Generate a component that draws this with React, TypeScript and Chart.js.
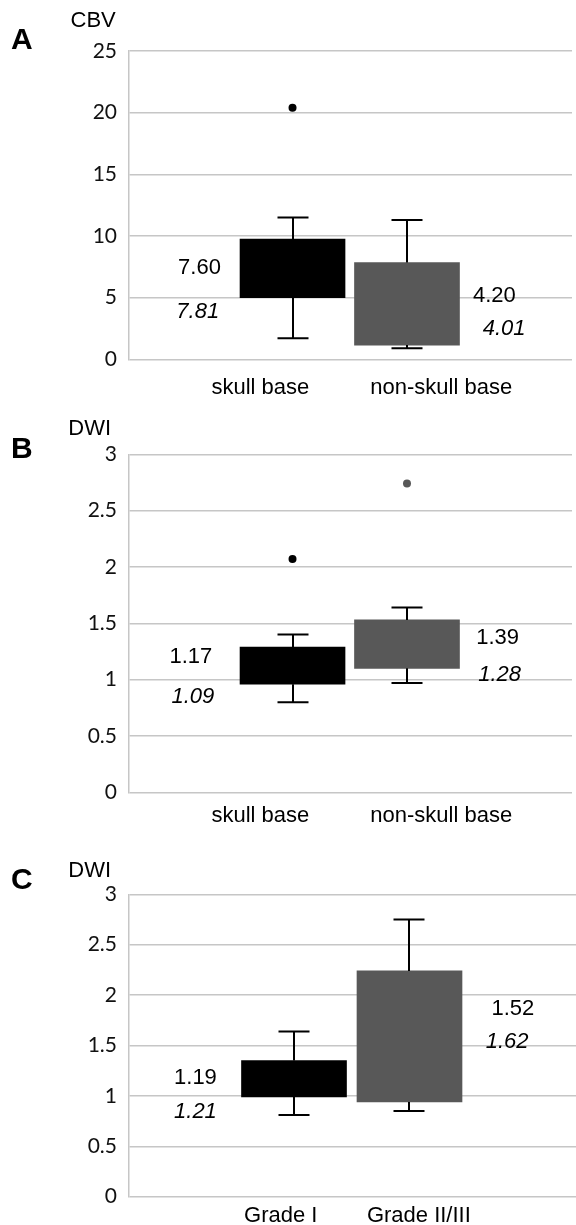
import React, { useEffect, useRef } from "react";
import { Chart, registerables } from "chart.js";

Chart.register(...registerables);

// ---------- DATA ----------
// Panel A (CBV)
const catsA = ["skull base", "non-skull base"];
const minA = [1.7, 0.9];
const q1A = [5.0, 1.15];
const q3A = [9.75, 7.85];
const maxA = [11.5, 11.3];
const outliersA = [[20.4], []];
const valueA = ["7.60", "4.20"];
const italicA = ["7.81", "4.01"];
const yTicksA = [0, 5, 10, 15, 20, 25];

// Panel B (DWI)
const catsB = ["skull base", "non-skull base"];
const minB = [0.8, 0.97];
const q1B = [0.96, 1.1];
const q3B = [1.29, 1.53];
const maxB = [1.4, 1.64];
const outliersB = [[2.07], [2.74]];
const valueB = ["1.17", "1.39"];
const italicB = ["1.09", "1.28"];
const yTicksB = [0, 0.5, 1, 1.5, 2, 2.5, 3];

// Panel C (DWI by grade)
const catsC = ["Grade I", "Grade II/III"];
const minC = [0.81, 0.85];
const q1C = [0.99, 0.94];
const q3C = [1.35, 2.24];
const maxC = [1.64, 2.75];
const outliersC = [[], []];
const valueC = ["1.19", "1.52"];
const italicC = ["1.21", "1.62"];
const yTicksC = [0, 0.5, 1, 1.5, 2, 2.5, 3];

// ---------- STYLE / LAYOUT ----------
const SANS = "'Liberation Sans', Arial, Helvetica, sans-serif";
const TICK_FONT = "Lato, 'Liberation Sans', sans-serif";
const BOX_COLORS = ["#000000", "#585858"];
const GRID = "#c6c6c6";
const X_MIN = -1.4286;
const X_MAX = 2.4416;
const AXIS_W = 129;

type Panel = {
  letter: string;
  title: string;
  cats: string[];
  min: number[];
  q1: number[];
  q3: number[];
  max: number[];
  outliers: number[][];
  valueText: string[];
  italicText: string[];
  yTicks: number[];
  top: number;
  height: number;
  padTop: number;
  xAxisH: number;
  xPad: number;
  labelPos: number[];
  letterBase: number;
  titleX: number;
  titleBase: number;
  valuePos: [number, number][];
  italicPos: [number, number][];
};

const panels: Panel[] = [
  {
    letter: "A", title: "CBV",
    cats: catsA, min: minA, q1: q1A, q3: q3A, max: maxA, outliers: outliersA,
    valueText: valueA, italicText: italicA, yTicks: yTicksA,
    top: 0, height: 410, padTop: 51, xAxisH: 50.7, xPad: 15,
    labelPos: [-0.281, 1.299],
    letterBase: 49.3, titleX: 70.5, titleBase: 26.7,
    valuePos: [[-0.626, 7.37], [1.576, 5.13]],
    italicPos: [[-0.641, 3.86], [1.662, 2.43]],
  },
  {
    letter: "B", title: "DWI",
    cats: catsB, min: minB, q1: q1B, q3: q3B, max: maxB, outliers: outliersB,
    valueText: valueB, italicText: italicB, yTicks: yTicksB,
    top: 410, height: 420, padTop: 44.3, xAxisH: 37.7, xPad: 10,
    labelPos: [-0.281, 1.299],
    letterBase: 48.3, titleX: 68.3, titleBase: 25,
    valuePos: [[-0.701, 1.198], [1.605, 1.367]],
    italicPos: [[-0.684, 0.849], [1.622, 1.041]],
  },
  {
    letter: "C", title: "DWI",
    cats: catsC, min: minC, q1: q1C, q3: q3C, max: maxC, outliers: outliersC,
    valueText: valueC, italicText: italicC, yTicks: yTicksC,
    top: 830, height: 395, padTop: 64.3, xAxisH: 28.3, xPad: 6,
    labelPos: [-0.115, 1.081],
    letterBase: 58.5, titleX: 68.3, titleBase: 46.7,
    valuePos: [[-0.668, 1.175], [1.71, 1.859]],
    italicPos: [[-0.668, 0.843], [1.66, 1.538]],
  },
];

function makePlugin(p: Panel) {
  return {
    id: "boxExtras" + p.letter,
    afterDatasetsDraw(chart: any) {
      const { ctx } = chart;
      const x = chart.scales.x;
      const y = chart.scales.y;
      ctx.save();
      ctx.strokeStyle = "#000";
      ctx.lineWidth = 2;
      const capHalf = 15.5;
      p.cats.forEach((_, i) => {
        const cx = Math.round(x.getPixelForValue(i));
        const yMax = y.getPixelForValue(p.max[i]);
        const yQ3 = y.getPixelForValue(p.q3[i]);
        const yQ1 = y.getPixelForValue(p.q1[i]);
        const yMin = y.getPixelForValue(p.min[i]);
        ctx.beginPath();
        ctx.moveTo(cx, yQ3);
        ctx.lineTo(cx, yMax);
        ctx.moveTo(cx - capHalf, yMax);
        ctx.lineTo(cx + capHalf, yMax);
        ctx.moveTo(cx, yQ1);
        ctx.lineTo(cx, yMin);
        ctx.moveTo(cx - capHalf, yMin);
        ctx.lineTo(cx + capHalf, yMin);
        ctx.stroke();
      });
      ctx.restore();
    },
    afterDraw(chart: any) {
      const { ctx } = chart;
      const x = chart.scales.x;
      const y = chart.scales.y;
      ctx.save();
      ctx.fillStyle = "#000";
      ctx.textBaseline = "alphabetic";
      ctx.textAlign = "left";
      ctx.font = `bold 30px ${SANS}`;
      ctx.fillText(p.letter, 11, p.letterBase);
      ctx.font = `22px ${SANS}`;
      ctx.fillText(p.title, p.titleX, p.titleBase);
      ctx.textBaseline = "middle";
      p.cats.forEach((_, i) => {
        ctx.textAlign = i === 0 ? "right" : "left";
        ctx.font = `22px ${SANS}`;
        ctx.fillText(
          p.valueText[i],
          x.getPixelForValue(p.valuePos[i][0]),
          y.getPixelForValue(p.valuePos[i][1])
        );
        ctx.font = `italic 22px ${SANS}`;
        ctx.fillText(
          p.italicText[i],
          x.getPixelForValue(p.italicPos[i][0]),
          y.getPixelForValue(p.italicPos[i][1])
        );
      });
      ctx.restore();
    },
  };
}

function BoxPanel({ p }: { p: Panel }) {
  const ref = useRef<HTMLCanvasElement>(null);
  useEffect(() => {
    const boxes = p.cats.map((_, i) => ({ x: i, y: [p.q1[i], p.q3[i]] }));
    const outPts: { x: number; y: number }[] = [];
    const outCols: string[] = [];
    p.outliers.forEach((vals, i) =>
      vals.forEach((v) => {
        outPts.push({ x: i, y: v });
        outCols.push(BOX_COLORS[i]);
      })
    );
    const yMax = p.yTicks[p.yTicks.length - 1];
    const chart = new Chart(ref.current as HTMLCanvasElement, {
      type: "bar",
      data: {
        datasets: [
          {
            type: "bar",
            data: boxes as any,
            backgroundColor: BOX_COLORS,
            borderWidth: 0,
            barThickness: 105,
            order: 2,
          } as any,
          {
            type: "scatter",
            data: outPts,
            pointRadius: 4,
            pointBackgroundColor: outCols,
            pointBorderWidth: 0,
            showLine: false,
            order: 1,
          } as any,
        ],
      },
      options: {
        animation: false,
        responsive: false,
        devicePixelRatio: 1,
        layout: { padding: { top: p.padTop, left: 0, right: 0, bottom: 0 } },
        plugins: {
          legend: { display: false },
          tooltip: { enabled: false },
          title: { display: false },
        },
        scales: {
          x: {
            type: "linear",
            min: X_MIN,
            max: X_MAX,
            offset: false,
            grid: { display: false, drawTicks: false, offset: false },
            border: { display: false },
            afterBuildTicks: (s: any) => {
              s.ticks = p.labelPos.map((v) => ({ value: v }));
            },
            afterFit: (s: any) => {
              s.height = p.xAxisH;
            },
            ticks: {
              autoSkip: false,
              maxRotation: 0,
              padding: p.xPad,
              color: "#000",
              font: { family: SANS, size: 22 },
              callback: (_v: any, i: number) => p.cats[i],
            },
          },
          y: {
            type: "linear",
            min: 0,
            max: yMax,
            afterBuildTicks: (s: any) => {
              s.ticks = p.yTicks.map((v) => ({ value: v }));
            },
            afterFit: (s: any) => {
              s.width = AXIS_W;
            },
            grid: { color: GRID, lineWidth: 1.5, drawTicks: false },
            border: { display: true, color: GRID, width: 1.5 },
            ticks: {
              padding: 12,
              color: "#111",
              font: { family: TICK_FONT, size: 21 },
              callback: (v: any) => String(v),
            },
          },
        },
      } as any,
      plugins: [makePlugin(p)],
    });
    return () => chart.destroy();
  }, []);
  return (
    <canvas
      ref={ref}
      width={576}
      height={p.height}
      style={{
        position: "absolute",
        left: 0,
        top: p.top,
        width: 576,
        height: p.height,
        display: "block",
      }}
    />
  );
}

export default function App() {
  return (
    <div
      style={{
        position: "absolute",
        left: 0,
        top: 0,
        width: 576,
        height: 1225,
        background: "#fff",
        overflow: "hidden",
      }}
    >
      {panels.map((p) => (
        <BoxPanel key={p.letter} p={p} />
      ))}
    </div>
  );
}
